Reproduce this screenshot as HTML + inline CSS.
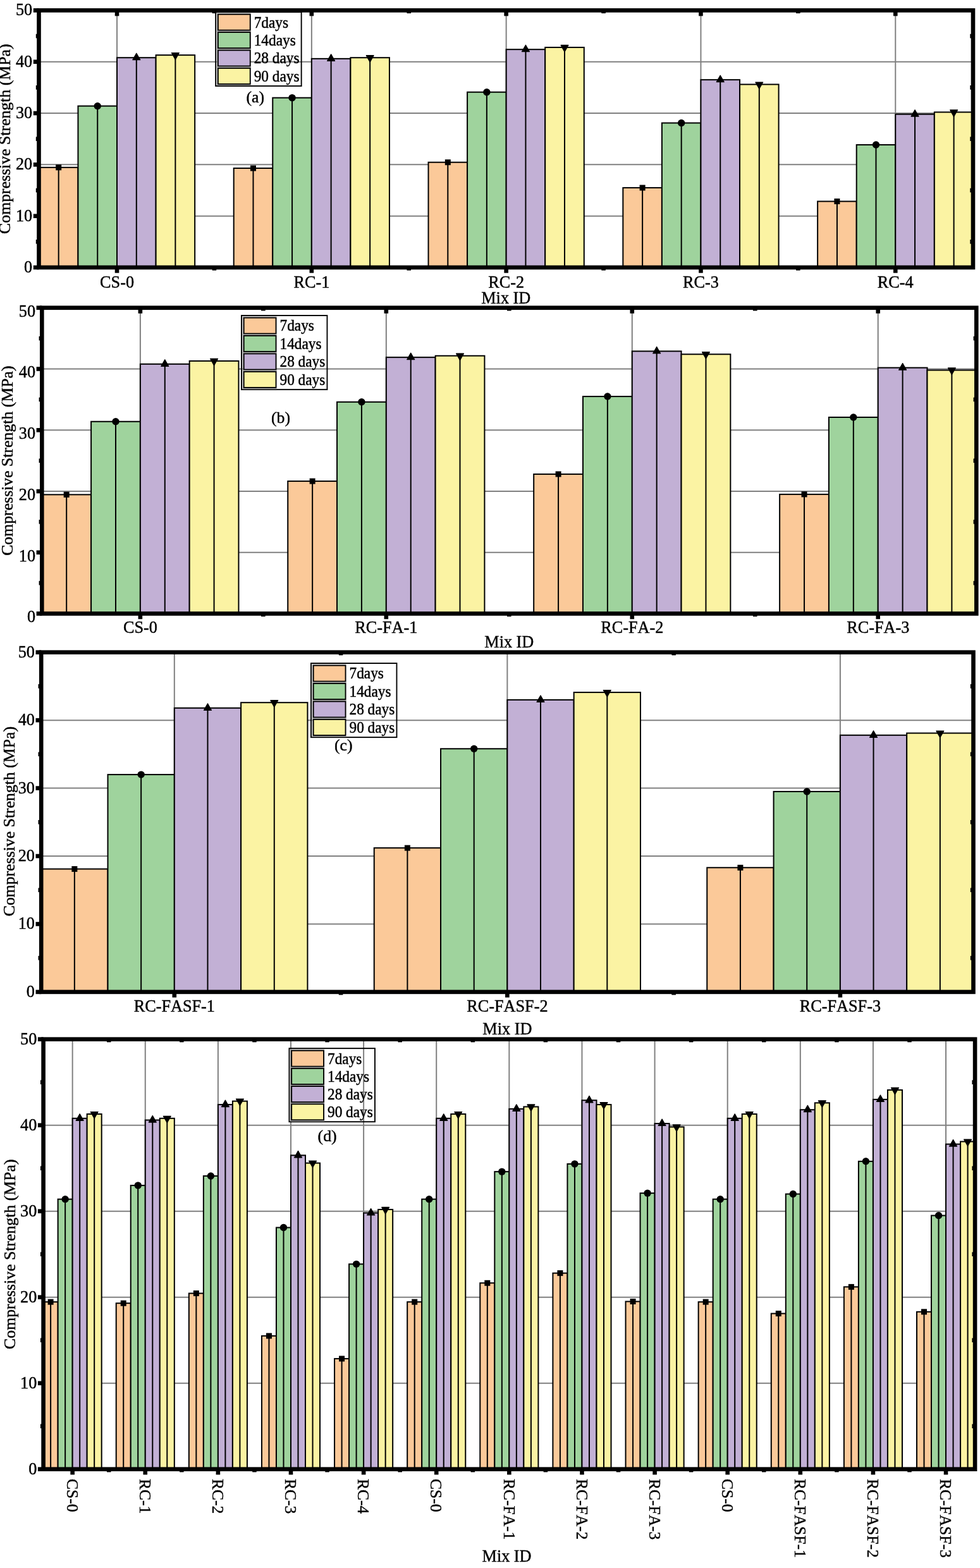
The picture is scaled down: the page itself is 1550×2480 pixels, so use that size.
<!DOCTYPE html>
<html lang="en"><head><meta charset="utf-8"><title>Compressive Strength of concrete mixes</title>
<style>html,body{margin:0;padding:0;background:#fff}body{width:1550px;height:2480px;overflow:hidden}svg{display:block}text{font-family:'Liberation Serif', serif;fill:#000;font-kerning:none}</style>
</head><body>
<svg width="1550" height="2480" viewBox="0 0 1550 2480" role="img" aria-label="Compressive strength of concrete mixes at 7, 14, 28 and 90 days">
<rect x="0" y="0" width="1550" height="2480" fill="#fff"/>
<g>
<line x1="61.5" y1="341.68" x2="1539" y2="341.68" stroke="#808080" stroke-width="2"/>
<line x1="61.5" y1="260.36" x2="1539" y2="260.36" stroke="#808080" stroke-width="2"/>
<line x1="61.5" y1="179.04" x2="1539" y2="179.04" stroke="#808080" stroke-width="2"/>
<line x1="61.5" y1="97.72" x2="1539" y2="97.72" stroke="#808080" stroke-width="2"/>
<line x1="185.03" y1="16.4" x2="185.03" y2="423" stroke="#808080" stroke-width="2"/>
<line x1="492.84" y1="16.4" x2="492.84" y2="423" stroke="#808080" stroke-width="2"/>
<line x1="800.65" y1="16.4" x2="800.65" y2="423" stroke="#808080" stroke-width="2"/>
<line x1="1108.46" y1="16.4" x2="1108.46" y2="423" stroke="#808080" stroke-width="2"/>
<line x1="1416.28" y1="16.4" x2="1416.28" y2="423" stroke="#808080" stroke-width="2"/>
<rect x="61.9" y="264.83" width="61.56" height="158.17" fill="#FBC999" stroke="#000" stroke-width="2"/>
<rect x="123.46" y="167.66" width="61.56" height="255.34" fill="#9FD39D" stroke="#000" stroke-width="2"/>
<rect x="185.03" y="91.21" width="61.56" height="331.79" fill="#C2B0D5" stroke="#000" stroke-width="2"/>
<rect x="246.59" y="87.15" width="61.56" height="335.85" fill="#FBF3A3" stroke="#000" stroke-width="2"/>
<rect x="369.71" y="266.05" width="61.56" height="156.95" fill="#FBC999" stroke="#000" stroke-width="2"/>
<rect x="431.27" y="154.64" width="61.56" height="268.36" fill="#9FD39D" stroke="#000" stroke-width="2"/>
<rect x="492.84" y="92.84" width="61.56" height="330.16" fill="#C2B0D5" stroke="#000" stroke-width="2"/>
<rect x="554.4" y="91.21" width="61.56" height="331.79" fill="#FBF3A3" stroke="#000" stroke-width="2"/>
<rect x="677.52" y="256.7" width="61.56" height="166.3" fill="#FBC999" stroke="#000" stroke-width="2"/>
<rect x="739.09" y="145.7" width="61.56" height="277.3" fill="#9FD39D" stroke="#000" stroke-width="2"/>
<rect x="800.65" y="78.2" width="61.56" height="344.8" fill="#C2B0D5" stroke="#000" stroke-width="2"/>
<rect x="862.21" y="74.95" width="61.56" height="348.05" fill="#FBF3A3" stroke="#000" stroke-width="2"/>
<rect x="985.34" y="296.95" width="61.56" height="126.05" fill="#FBC999" stroke="#000" stroke-width="2"/>
<rect x="1046.9" y="194.49" width="61.56" height="228.51" fill="#9FD39D" stroke="#000" stroke-width="2"/>
<rect x="1108.46" y="126.18" width="61.56" height="296.82" fill="#C2B0D5" stroke="#000" stroke-width="2"/>
<rect x="1170.03" y="133.5" width="61.56" height="289.5" fill="#FBF3A3" stroke="#000" stroke-width="2"/>
<rect x="1293.15" y="318.5" width="61.56" height="104.5" fill="#FBC999" stroke="#000" stroke-width="2"/>
<rect x="1354.71" y="229.05" width="61.56" height="193.95" fill="#9FD39D" stroke="#000" stroke-width="2"/>
<rect x="1416.28" y="180.67" width="61.56" height="242.33" fill="#C2B0D5" stroke="#000" stroke-width="2"/>
<rect x="1477.84" y="177.41" width="61.56" height="245.59" fill="#FBF3A3" stroke="#000" stroke-width="2"/>
<line x1="92.68" y1="264.83" x2="92.68" y2="423" stroke="#000" stroke-width="2"/>
<rect x="88.18" y="260.33" width="9" height="9" fill="#000"/>
<line x1="154.24" y1="167.66" x2="154.24" y2="423" stroke="#000" stroke-width="2"/>
<circle cx="154.24" cy="167.66" r="5.7" fill="#000"/>
<line x1="215.81" y1="91.21" x2="215.81" y2="423" stroke="#000" stroke-width="2"/>
<polygon points="215.81,84.28 209.91,94.68 221.71,94.68" fill="#000" stroke="#000" stroke-width="1.3" stroke-linejoin="round"/>
<line x1="277.37" y1="87.15" x2="277.37" y2="423" stroke="#000" stroke-width="2"/>
<polygon points="277.37,94.08 271.47,83.68 283.27,83.68" fill="#000" stroke="#000" stroke-width="1.3" stroke-linejoin="round"/>
<line x1="400.49" y1="266.05" x2="400.49" y2="423" stroke="#000" stroke-width="2"/>
<rect x="395.99" y="261.55" width="9" height="9" fill="#000"/>
<line x1="462.06" y1="154.64" x2="462.06" y2="423" stroke="#000" stroke-width="2"/>
<circle cx="462.06" cy="154.64" r="5.7" fill="#000"/>
<line x1="523.62" y1="92.84" x2="523.62" y2="423" stroke="#000" stroke-width="2"/>
<polygon points="523.62,85.91 517.72,96.31 529.52,96.31" fill="#000" stroke="#000" stroke-width="1.3" stroke-linejoin="round"/>
<line x1="585.18" y1="91.21" x2="585.18" y2="423" stroke="#000" stroke-width="2"/>
<polygon points="585.18,98.15 579.28,87.75 591.08,87.75" fill="#000" stroke="#000" stroke-width="1.3" stroke-linejoin="round"/>
<line x1="708.31" y1="256.7" x2="708.31" y2="423" stroke="#000" stroke-width="2"/>
<rect x="703.81" y="252.2" width="9" height="9" fill="#000"/>
<line x1="769.87" y1="145.7" x2="769.87" y2="423" stroke="#000" stroke-width="2"/>
<circle cx="769.87" cy="145.7" r="5.7" fill="#000"/>
<line x1="831.43" y1="78.2" x2="831.43" y2="423" stroke="#000" stroke-width="2"/>
<polygon points="831.43,71.27 825.53,81.67 837.33,81.67" fill="#000" stroke="#000" stroke-width="1.3" stroke-linejoin="round"/>
<line x1="892.99" y1="74.95" x2="892.99" y2="423" stroke="#000" stroke-width="2"/>
<polygon points="892.99,81.88 887.09,71.48 898.89,71.48" fill="#000" stroke="#000" stroke-width="1.3" stroke-linejoin="round"/>
<line x1="1016.12" y1="296.95" x2="1016.12" y2="423" stroke="#000" stroke-width="2"/>
<rect x="1011.62" y="292.45" width="9" height="9" fill="#000"/>
<line x1="1077.68" y1="194.49" x2="1077.68" y2="423" stroke="#000" stroke-width="2"/>
<circle cx="1077.68" cy="194.49" r="5.7" fill="#000"/>
<line x1="1139.24" y1="126.18" x2="1139.24" y2="423" stroke="#000" stroke-width="2"/>
<polygon points="1139.24,119.25 1133.34,129.65 1145.14,129.65" fill="#000" stroke="#000" stroke-width="1.3" stroke-linejoin="round"/>
<line x1="1200.81" y1="133.5" x2="1200.81" y2="423" stroke="#000" stroke-width="2"/>
<polygon points="1200.81,140.43 1194.91,130.03 1206.71,130.03" fill="#000" stroke="#000" stroke-width="1.3" stroke-linejoin="round"/>
<line x1="1323.93" y1="318.5" x2="1323.93" y2="423" stroke="#000" stroke-width="2"/>
<rect x="1319.43" y="314" width="9" height="9" fill="#000"/>
<line x1="1385.49" y1="229.05" x2="1385.49" y2="423" stroke="#000" stroke-width="2"/>
<circle cx="1385.49" cy="229.05" r="5.7" fill="#000"/>
<line x1="1447.06" y1="180.67" x2="1447.06" y2="423" stroke="#000" stroke-width="2"/>
<polygon points="1447.06,173.73 1441.16,184.13 1452.96,184.13" fill="#000" stroke="#000" stroke-width="1.3" stroke-linejoin="round"/>
<line x1="1508.62" y1="177.41" x2="1508.62" y2="423" stroke="#000" stroke-width="2"/>
<polygon points="1508.62,184.35 1502.72,173.95 1514.52,173.95" fill="#000" stroke="#000" stroke-width="1.3" stroke-linejoin="round"/>
<rect x="52.8" y="419.7" width="8.7" height="6.6" fill="#000"/>
<rect x="56.8" y="379.04" width="4.7" height="6.6" fill="#000"/>
<rect x="1534.3" y="379.04" width="4.7" height="6.6" fill="#000"/>
<rect x="52.8" y="338.38" width="8.7" height="6.6" fill="#000"/>
<rect x="56.8" y="297.72" width="4.7" height="6.6" fill="#000"/>
<rect x="1534.3" y="297.72" width="4.7" height="6.6" fill="#000"/>
<rect x="52.8" y="257.06" width="8.7" height="6.6" fill="#000"/>
<rect x="56.8" y="216.4" width="4.7" height="6.6" fill="#000"/>
<rect x="1534.3" y="216.4" width="4.7" height="6.6" fill="#000"/>
<rect x="52.8" y="175.74" width="8.7" height="6.6" fill="#000"/>
<rect x="56.8" y="135.08" width="4.7" height="6.6" fill="#000"/>
<rect x="1534.3" y="135.08" width="4.7" height="6.6" fill="#000"/>
<rect x="52.8" y="94.42" width="8.7" height="6.6" fill="#000"/>
<rect x="56.8" y="53.76" width="4.7" height="6.6" fill="#000"/>
<rect x="1534.3" y="53.76" width="4.7" height="6.6" fill="#000"/>
<rect x="52.8" y="13.1" width="8.7" height="6.6" fill="#000"/>
<rect x="181.72" y="423" width="6.6" height="8.7" fill="#000"/>
<rect x="181.72" y="16.4" width="6.6" height="8.9" fill="#000"/>
<rect x="335.63" y="423" width="6.6" height="4.7" fill="#000"/>
<rect x="335.63" y="16.4" width="6.6" height="4.7" fill="#000"/>
<rect x="489.54" y="423" width="6.6" height="8.7" fill="#000"/>
<rect x="489.54" y="16.4" width="6.6" height="8.9" fill="#000"/>
<rect x="643.44" y="423" width="6.6" height="4.7" fill="#000"/>
<rect x="643.44" y="16.4" width="6.6" height="4.7" fill="#000"/>
<rect x="797.35" y="423" width="6.6" height="8.7" fill="#000"/>
<rect x="797.35" y="16.4" width="6.6" height="8.9" fill="#000"/>
<rect x="951.26" y="423" width="6.6" height="4.7" fill="#000"/>
<rect x="951.26" y="16.4" width="6.6" height="4.7" fill="#000"/>
<rect x="1105.16" y="423" width="6.6" height="8.7" fill="#000"/>
<rect x="1105.16" y="16.4" width="6.6" height="8.9" fill="#000"/>
<rect x="1259.07" y="423" width="6.6" height="4.7" fill="#000"/>
<rect x="1259.07" y="16.4" width="6.6" height="4.7" fill="#000"/>
<rect x="1412.98" y="423" width="6.6" height="8.7" fill="#000"/>
<rect x="1412.98" y="16.4" width="6.6" height="8.9" fill="#000"/>
<rect x="61.5" y="16.4" width="1477.5" height="406.6" fill="none" stroke="#000" stroke-width="6.6"/>
<text transform="translate(51.2,431) scale(1.05,1.1)" font-size="25" text-anchor="end" stroke="#000" stroke-width="0.42">0</text>
<text transform="translate(51.2,349.68) scale(1.05,1.1)" font-size="25" text-anchor="end" stroke="#000" stroke-width="0.42">10</text>
<text transform="translate(51.2,268.36) scale(1.05,1.1)" font-size="25" text-anchor="end" stroke="#000" stroke-width="0.42">20</text>
<text transform="translate(51.2,187.04) scale(1.05,1.1)" font-size="25" text-anchor="end" stroke="#000" stroke-width="0.42">30</text>
<text transform="translate(51.2,105.72) scale(1.05,1.1)" font-size="25" text-anchor="end" stroke="#000" stroke-width="0.42">40</text>
<text transform="translate(51.2,24.4) scale(1.05,1.1)" font-size="25" text-anchor="end" stroke="#000" stroke-width="0.42">50</text>
<text transform="translate(15.9,219.7) rotate(-90) scale(1.03,1.01)" font-size="25" text-anchor="middle" stroke="#000" stroke-width="0.42">Compressive Strength (MPa)</text>
<text transform="translate(185.03,455.2) scale(1.05,1.1)" font-size="25" text-anchor="middle" stroke="#000" stroke-width="0.42">CS-0</text>
<text transform="translate(492.84,455.2) scale(1.05,1.1)" font-size="25" text-anchor="middle" stroke="#000" stroke-width="0.42">RC-1</text>
<text transform="translate(800.65,455.2) scale(1.05,1.1)" font-size="25" text-anchor="middle" stroke="#000" stroke-width="0.42">RC-2</text>
<text transform="translate(1108.46,455.2) scale(1.05,1.1)" font-size="25" text-anchor="middle" stroke="#000" stroke-width="0.42">RC-3</text>
<text transform="translate(1416.28,455.2) scale(1.05,1.1)" font-size="25" text-anchor="middle" stroke="#000" stroke-width="0.42">RC-4</text>
<text transform="translate(800.25,479.7) scale(1.05,1.1)" font-size="25" text-anchor="middle" stroke="#000" stroke-width="0.42">Mix ID</text>
<rect x="341.15" y="19.15" width="135.5" height="116.9" fill="none" stroke="#000" stroke-width="1.9"/>
<path d="M396.7 21.1 H343.3 V49.3 H396.7" fill="none" stroke="#b0b0b0" stroke-width="1.2"/>
<rect x="344.85" y="22.65" width="50.9" height="25.1" fill="#FBC999" stroke="#000" stroke-width="1.9"/>
<text transform="translate(401.7,43.5) scale(1.05,1.1)" font-size="22.2" text-anchor="start" stroke="#000" stroke-width="0.42">7days</text>
<path d="M396.7 49.5 H343.3 V77.7 H396.7" fill="none" stroke="#b0b0b0" stroke-width="1.2"/>
<rect x="344.85" y="51.05" width="50.9" height="25.1" fill="#9FD39D" stroke="#000" stroke-width="1.9"/>
<text transform="translate(401.7,71.9) scale(1.05,1.1)" font-size="22.2" text-anchor="start" stroke="#000" stroke-width="0.42">14days</text>
<path d="M396.7 77.9 H343.3 V106.1 H396.7" fill="none" stroke="#b0b0b0" stroke-width="1.2"/>
<rect x="344.85" y="79.45" width="50.9" height="25.1" fill="#C2B0D5" stroke="#000" stroke-width="1.9"/>
<text transform="translate(401.7,100.3) scale(1.05,1.1)" font-size="22.2" text-anchor="start" stroke="#000" stroke-width="0.42">28 days</text>
<path d="M396.7 106.3 H343.3 V134.5 H396.7" fill="none" stroke="#b0b0b0" stroke-width="1.2"/>
<rect x="344.85" y="107.85" width="50.9" height="25.1" fill="#FBF3A3" stroke="#000" stroke-width="1.9"/>
<text transform="translate(401.7,128.7) scale(1.05,1.1)" font-size="22.2" text-anchor="start" stroke="#000" stroke-width="0.42">90 days</text>
<text transform="translate(389.4,161.6) scale(1.03,1.02)" font-size="25" text-anchor="start" stroke="#000" stroke-width="0.42">(a)</text>
</g>
<g>
<line x1="66.3" y1="873.76" x2="1544.3" y2="873.76" stroke="#808080" stroke-width="2"/>
<line x1="66.3" y1="777.02" x2="1544.3" y2="777.02" stroke="#808080" stroke-width="2"/>
<line x1="66.3" y1="680.28" x2="1544.3" y2="680.28" stroke="#808080" stroke-width="2"/>
<line x1="66.3" y1="583.54" x2="1544.3" y2="583.54" stroke="#808080" stroke-width="2"/>
<line x1="221.88" y1="486.8" x2="221.88" y2="970.5" stroke="#808080" stroke-width="2"/>
<line x1="610.83" y1="486.8" x2="610.83" y2="970.5" stroke="#808080" stroke-width="2"/>
<line x1="999.77" y1="486.8" x2="999.77" y2="970.5" stroke="#808080" stroke-width="2"/>
<line x1="1388.72" y1="486.8" x2="1388.72" y2="970.5" stroke="#808080" stroke-width="2"/>
<rect x="66.3" y="782.34" width="77.79" height="188.16" fill="#FBC999" stroke="#000" stroke-width="2"/>
<rect x="144.09" y="666.74" width="77.79" height="303.76" fill="#9FD39D" stroke="#000" stroke-width="2"/>
<rect x="221.88" y="575.8" width="77.79" height="394.7" fill="#C2B0D5" stroke="#000" stroke-width="2"/>
<rect x="299.67" y="570.96" width="77.79" height="399.54" fill="#FBF3A3" stroke="#000" stroke-width="2"/>
<rect x="455.25" y="761.06" width="77.79" height="209.44" fill="#FBC999" stroke="#000" stroke-width="2"/>
<rect x="533.04" y="635.78" width="77.79" height="334.72" fill="#9FD39D" stroke="#000" stroke-width="2"/>
<rect x="610.83" y="565.16" width="77.79" height="405.34" fill="#C2B0D5" stroke="#000" stroke-width="2"/>
<rect x="688.62" y="562.74" width="77.79" height="407.76" fill="#FBF3A3" stroke="#000" stroke-width="2"/>
<rect x="844.19" y="749.93" width="77.79" height="220.57" fill="#FBC999" stroke="#000" stroke-width="2"/>
<rect x="921.98" y="627.07" width="77.79" height="343.43" fill="#9FD39D" stroke="#000" stroke-width="2"/>
<rect x="999.77" y="555.49" width="77.79" height="415.01" fill="#C2B0D5" stroke="#000" stroke-width="2"/>
<rect x="1077.56" y="560.32" width="77.79" height="410.18" fill="#FBF3A3" stroke="#000" stroke-width="2"/>
<rect x="1233.14" y="781.86" width="77.79" height="188.64" fill="#FBC999" stroke="#000" stroke-width="2"/>
<rect x="1310.93" y="659.96" width="77.79" height="310.54" fill="#9FD39D" stroke="#000" stroke-width="2"/>
<rect x="1388.72" y="581.61" width="77.79" height="388.89" fill="#C2B0D5" stroke="#000" stroke-width="2"/>
<rect x="1466.51" y="585.47" width="77.79" height="385.03" fill="#FBF3A3" stroke="#000" stroke-width="2"/>
<line x1="105.19" y1="782.34" x2="105.19" y2="970.5" stroke="#000" stroke-width="2"/>
<rect x="100.69" y="777.84" width="9" height="9" fill="#000"/>
<line x1="182.98" y1="666.74" x2="182.98" y2="970.5" stroke="#000" stroke-width="2"/>
<circle cx="182.98" cy="666.74" r="5.7" fill="#000"/>
<line x1="260.77" y1="575.8" x2="260.77" y2="970.5" stroke="#000" stroke-width="2"/>
<polygon points="260.77,568.87 254.87,579.27 266.67,579.27" fill="#000" stroke="#000" stroke-width="1.3" stroke-linejoin="round"/>
<line x1="338.56" y1="570.96" x2="338.56" y2="970.5" stroke="#000" stroke-width="2"/>
<polygon points="338.56,577.9 332.66,567.5 344.46,567.5" fill="#000" stroke="#000" stroke-width="1.3" stroke-linejoin="round"/>
<line x1="494.14" y1="761.06" x2="494.14" y2="970.5" stroke="#000" stroke-width="2"/>
<rect x="489.64" y="756.56" width="9" height="9" fill="#000"/>
<line x1="571.93" y1="635.78" x2="571.93" y2="970.5" stroke="#000" stroke-width="2"/>
<circle cx="571.93" cy="635.78" r="5.7" fill="#000"/>
<line x1="649.72" y1="565.16" x2="649.72" y2="970.5" stroke="#000" stroke-width="2"/>
<polygon points="649.72,558.23 643.82,568.63 655.62,568.63" fill="#000" stroke="#000" stroke-width="1.3" stroke-linejoin="round"/>
<line x1="727.51" y1="562.74" x2="727.51" y2="970.5" stroke="#000" stroke-width="2"/>
<polygon points="727.51,569.67 721.61,559.27 733.41,559.27" fill="#000" stroke="#000" stroke-width="1.3" stroke-linejoin="round"/>
<line x1="883.09" y1="749.93" x2="883.09" y2="970.5" stroke="#000" stroke-width="2"/>
<rect x="878.59" y="745.43" width="9" height="9" fill="#000"/>
<line x1="960.88" y1="627.07" x2="960.88" y2="970.5" stroke="#000" stroke-width="2"/>
<circle cx="960.88" cy="627.07" r="5.7" fill="#000"/>
<line x1="1038.67" y1="555.49" x2="1038.67" y2="970.5" stroke="#000" stroke-width="2"/>
<polygon points="1038.67,548.55 1032.77,558.95 1044.57,558.95" fill="#000" stroke="#000" stroke-width="1.3" stroke-linejoin="round"/>
<line x1="1116.46" y1="560.32" x2="1116.46" y2="970.5" stroke="#000" stroke-width="2"/>
<polygon points="1116.46,567.26 1110.56,556.86 1122.36,556.86" fill="#000" stroke="#000" stroke-width="1.3" stroke-linejoin="round"/>
<line x1="1272.04" y1="781.86" x2="1272.04" y2="970.5" stroke="#000" stroke-width="2"/>
<rect x="1267.54" y="777.36" width="9" height="9" fill="#000"/>
<line x1="1349.83" y1="659.96" x2="1349.83" y2="970.5" stroke="#000" stroke-width="2"/>
<circle cx="1349.83" cy="659.96" r="5.7" fill="#000"/>
<line x1="1427.62" y1="581.61" x2="1427.62" y2="970.5" stroke="#000" stroke-width="2"/>
<polygon points="1427.62,574.67 1421.72,585.07 1433.52,585.07" fill="#000" stroke="#000" stroke-width="1.3" stroke-linejoin="round"/>
<line x1="1505.41" y1="585.47" x2="1505.41" y2="970.5" stroke="#000" stroke-width="2"/>
<polygon points="1505.41,592.41 1499.51,582.01 1511.31,582.01" fill="#000" stroke="#000" stroke-width="1.3" stroke-linejoin="round"/>
<rect x="57.6" y="967.2" width="8.7" height="6.6" fill="#000"/>
<rect x="61.6" y="918.83" width="4.7" height="6.6" fill="#000"/>
<rect x="1539.6" y="918.83" width="4.7" height="6.6" fill="#000"/>
<rect x="57.6" y="870.46" width="8.7" height="6.6" fill="#000"/>
<rect x="61.6" y="822.09" width="4.7" height="6.6" fill="#000"/>
<rect x="1539.6" y="822.09" width="4.7" height="6.6" fill="#000"/>
<rect x="57.6" y="773.72" width="8.7" height="6.6" fill="#000"/>
<rect x="61.6" y="725.35" width="4.7" height="6.6" fill="#000"/>
<rect x="1539.6" y="725.35" width="4.7" height="6.6" fill="#000"/>
<rect x="57.6" y="676.98" width="8.7" height="6.6" fill="#000"/>
<rect x="61.6" y="628.61" width="4.7" height="6.6" fill="#000"/>
<rect x="1539.6" y="628.61" width="4.7" height="6.6" fill="#000"/>
<rect x="57.6" y="580.24" width="8.7" height="6.6" fill="#000"/>
<rect x="61.6" y="531.87" width="4.7" height="6.6" fill="#000"/>
<rect x="1539.6" y="531.87" width="4.7" height="6.6" fill="#000"/>
<rect x="57.6" y="483.5" width="8.7" height="6.6" fill="#000"/>
<rect x="218.58" y="970.5" width="6.6" height="8.7" fill="#000"/>
<rect x="218.58" y="486.8" width="6.6" height="8.9" fill="#000"/>
<rect x="413.05" y="970.5" width="6.6" height="4.7" fill="#000"/>
<rect x="413.05" y="486.8" width="6.6" height="4.7" fill="#000"/>
<rect x="607.53" y="970.5" width="6.6" height="8.7" fill="#000"/>
<rect x="607.53" y="486.8" width="6.6" height="8.9" fill="#000"/>
<rect x="802" y="970.5" width="6.6" height="4.7" fill="#000"/>
<rect x="802" y="486.8" width="6.6" height="4.7" fill="#000"/>
<rect x="996.47" y="970.5" width="6.6" height="8.7" fill="#000"/>
<rect x="996.47" y="486.8" width="6.6" height="8.9" fill="#000"/>
<rect x="1190.95" y="970.5" width="6.6" height="4.7" fill="#000"/>
<rect x="1190.95" y="486.8" width="6.6" height="4.7" fill="#000"/>
<rect x="1385.42" y="970.5" width="6.6" height="8.7" fill="#000"/>
<rect x="1385.42" y="486.8" width="6.6" height="8.9" fill="#000"/>
<rect x="66.3" y="486.8" width="1478" height="483.7" fill="none" stroke="#000" stroke-width="6.6"/>
<text transform="translate(56,984.3) scale(1.05,1.1)" font-size="25" text-anchor="end" stroke="#000" stroke-width="0.42">0</text>
<text transform="translate(56,887.56) scale(1.05,1.1)" font-size="25" text-anchor="end" stroke="#000" stroke-width="0.42">10</text>
<text transform="translate(56,790.82) scale(1.05,1.1)" font-size="25" text-anchor="end" stroke="#000" stroke-width="0.42">20</text>
<text transform="translate(56,694.08) scale(1.05,1.1)" font-size="25" text-anchor="end" stroke="#000" stroke-width="0.42">30</text>
<text transform="translate(56,597.34) scale(1.05,1.1)" font-size="25" text-anchor="end" stroke="#000" stroke-width="0.42">40</text>
<text transform="translate(56,500.6) scale(1.05,1.1)" font-size="25" text-anchor="end" stroke="#000" stroke-width="0.42">50</text>
<text transform="translate(19.8,728.65) rotate(-90) scale(1.03,1.01)" font-size="25" text-anchor="middle" stroke="#000" stroke-width="0.42">Compressive Strength (MPa)</text>
<text transform="translate(221.88,1001) scale(1.05,1.1)" font-size="25" text-anchor="middle" stroke="#000" stroke-width="0.42">CS-0</text>
<text transform="translate(610.83,1001) scale(1.05,1.1)" font-size="25" text-anchor="middle" stroke="#000" stroke-width="0.42">RC-FA-1</text>
<text transform="translate(999.77,1001) scale(1.05,1.1)" font-size="25" text-anchor="middle" stroke="#000" stroke-width="0.42">RC-FA-2</text>
<text transform="translate(1388.72,1001) scale(1.05,1.1)" font-size="25" text-anchor="middle" stroke="#000" stroke-width="0.42">RC-FA-3</text>
<text transform="translate(805.3,1023.9) scale(1.05,1.1)" font-size="25" text-anchor="middle" stroke="#000" stroke-width="0.42">Mix ID</text>
<rect x="381.95" y="499.05" width="135.5" height="117.1" fill="none" stroke="#000" stroke-width="1.9"/>
<path d="M437.5 501 H384.1 V529.2 H437.5" fill="none" stroke="#b0b0b0" stroke-width="1.2"/>
<rect x="385.65" y="502.55" width="50.9" height="25.1" fill="#FBC999" stroke="#000" stroke-width="1.9"/>
<text transform="translate(442.5,523.4) scale(1.05,1.1)" font-size="22.2" text-anchor="start" stroke="#000" stroke-width="0.42">7days</text>
<path d="M437.5 529.45 H384.1 V557.65 H437.5" fill="none" stroke="#b0b0b0" stroke-width="1.2"/>
<rect x="385.65" y="531" width="50.9" height="25.1" fill="#9FD39D" stroke="#000" stroke-width="1.9"/>
<text transform="translate(442.5,551.85) scale(1.05,1.1)" font-size="22.2" text-anchor="start" stroke="#000" stroke-width="0.42">14days</text>
<path d="M437.5 557.9 H384.1 V586.1 H437.5" fill="none" stroke="#b0b0b0" stroke-width="1.2"/>
<rect x="385.65" y="559.45" width="50.9" height="25.1" fill="#C2B0D5" stroke="#000" stroke-width="1.9"/>
<text transform="translate(442.5,580.3) scale(1.05,1.1)" font-size="22.2" text-anchor="start" stroke="#000" stroke-width="0.42">28 days</text>
<path d="M437.5 586.35 H384.1 V614.55 H437.5" fill="none" stroke="#b0b0b0" stroke-width="1.2"/>
<rect x="385.65" y="587.9" width="50.9" height="25.1" fill="#FBF3A3" stroke="#000" stroke-width="1.9"/>
<text transform="translate(442.5,608.75) scale(1.05,1.1)" font-size="22.2" text-anchor="start" stroke="#000" stroke-width="0.42">90 days</text>
<text transform="translate(429,669.2) scale(1.03,1.02)" font-size="25" text-anchor="start" stroke="#000" stroke-width="0.42">(b)</text>
</g>
<g>
<line x1="65.2" y1="1461.46" x2="1539.5" y2="1461.46" stroke="#808080" stroke-width="2"/>
<line x1="65.2" y1="1354.02" x2="1539.5" y2="1354.02" stroke="#808080" stroke-width="2"/>
<line x1="65.2" y1="1246.58" x2="1539.5" y2="1246.58" stroke="#808080" stroke-width="2"/>
<line x1="65.2" y1="1139.14" x2="1539.5" y2="1139.14" stroke="#808080" stroke-width="2"/>
<line x1="275.81" y1="1031.7" x2="275.81" y2="1568.9" stroke="#808080" stroke-width="2"/>
<line x1="802.35" y1="1031.7" x2="802.35" y2="1568.9" stroke="#808080" stroke-width="2"/>
<line x1="1328.89" y1="1031.7" x2="1328.89" y2="1568.9" stroke="#808080" stroke-width="2"/>
<rect x="65.2" y="1374.43" width="105.31" height="194.47" fill="#FBC999" stroke="#000" stroke-width="2"/>
<rect x="170.51" y="1225.09" width="105.31" height="343.81" fill="#9FD39D" stroke="#000" stroke-width="2"/>
<rect x="275.81" y="1119.8" width="105.31" height="449.1" fill="#C2B0D5" stroke="#000" stroke-width="2"/>
<rect x="381.12" y="1111.21" width="105.31" height="457.69" fill="#FBF3A3" stroke="#000" stroke-width="2"/>
<rect x="591.74" y="1341.13" width="105.31" height="227.77" fill="#FBC999" stroke="#000" stroke-width="2"/>
<rect x="697.04" y="1184.26" width="105.31" height="384.64" fill="#9FD39D" stroke="#000" stroke-width="2"/>
<rect x="802.35" y="1106.91" width="105.31" height="461.99" fill="#C2B0D5" stroke="#000" stroke-width="2"/>
<rect x="907.66" y="1095.09" width="105.31" height="473.81" fill="#FBF3A3" stroke="#000" stroke-width="2"/>
<rect x="1118.27" y="1372.28" width="105.31" height="196.62" fill="#FBC999" stroke="#000" stroke-width="2"/>
<rect x="1223.58" y="1251.95" width="105.31" height="316.95" fill="#9FD39D" stroke="#000" stroke-width="2"/>
<rect x="1328.89" y="1162.78" width="105.31" height="406.12" fill="#C2B0D5" stroke="#000" stroke-width="2"/>
<rect x="1434.19" y="1159.55" width="105.31" height="409.35" fill="#FBF3A3" stroke="#000" stroke-width="2"/>
<line x1="117.85" y1="1374.43" x2="117.85" y2="1568.9" stroke="#000" stroke-width="2"/>
<rect x="113.35" y="1369.93" width="9" height="9" fill="#000"/>
<line x1="223.16" y1="1225.09" x2="223.16" y2="1568.9" stroke="#000" stroke-width="2"/>
<circle cx="223.16" cy="1225.09" r="5.7" fill="#000"/>
<line x1="328.47" y1="1119.8" x2="328.47" y2="1568.9" stroke="#000" stroke-width="2"/>
<polygon points="328.47,1112.87 322.57,1123.27 334.37,1123.27" fill="#000" stroke="#000" stroke-width="1.3" stroke-linejoin="round"/>
<line x1="433.78" y1="1111.21" x2="433.78" y2="1568.9" stroke="#000" stroke-width="2"/>
<polygon points="433.78,1118.14 427.88,1107.74 439.68,1107.74" fill="#000" stroke="#000" stroke-width="1.3" stroke-linejoin="round"/>
<line x1="644.39" y1="1341.13" x2="644.39" y2="1568.9" stroke="#000" stroke-width="2"/>
<rect x="639.89" y="1336.63" width="9" height="9" fill="#000"/>
<line x1="749.7" y1="1184.26" x2="749.7" y2="1568.9" stroke="#000" stroke-width="2"/>
<circle cx="749.7" cy="1184.26" r="5.7" fill="#000"/>
<line x1="855" y1="1106.91" x2="855" y2="1568.9" stroke="#000" stroke-width="2"/>
<polygon points="855,1099.97 849.1,1110.37 860.9,1110.37" fill="#000" stroke="#000" stroke-width="1.3" stroke-linejoin="round"/>
<line x1="960.31" y1="1095.09" x2="960.31" y2="1568.9" stroke="#000" stroke-width="2"/>
<polygon points="960.31,1102.02 954.41,1091.62 966.21,1091.62" fill="#000" stroke="#000" stroke-width="1.3" stroke-linejoin="round"/>
<line x1="1170.93" y1="1372.28" x2="1170.93" y2="1568.9" stroke="#000" stroke-width="2"/>
<rect x="1166.43" y="1367.78" width="9" height="9" fill="#000"/>
<line x1="1276.23" y1="1251.95" x2="1276.23" y2="1568.9" stroke="#000" stroke-width="2"/>
<circle cx="1276.23" cy="1251.95" r="5.7" fill="#000"/>
<line x1="1381.54" y1="1162.78" x2="1381.54" y2="1568.9" stroke="#000" stroke-width="2"/>
<polygon points="1381.54,1155.84 1375.64,1166.24 1387.44,1166.24" fill="#000" stroke="#000" stroke-width="1.3" stroke-linejoin="round"/>
<line x1="1486.85" y1="1159.55" x2="1486.85" y2="1568.9" stroke="#000" stroke-width="2"/>
<polygon points="1486.85,1166.49 1480.95,1156.09 1492.75,1156.09" fill="#000" stroke="#000" stroke-width="1.3" stroke-linejoin="round"/>
<rect x="56.5" y="1565.6" width="8.7" height="6.6" fill="#000"/>
<rect x="60.5" y="1511.88" width="4.7" height="6.6" fill="#000"/>
<rect x="1534.8" y="1511.88" width="4.7" height="6.6" fill="#000"/>
<rect x="56.5" y="1458.16" width="8.7" height="6.6" fill="#000"/>
<rect x="60.5" y="1404.44" width="4.7" height="6.6" fill="#000"/>
<rect x="1534.8" y="1404.44" width="4.7" height="6.6" fill="#000"/>
<rect x="56.5" y="1350.72" width="8.7" height="6.6" fill="#000"/>
<rect x="60.5" y="1297" width="4.7" height="6.6" fill="#000"/>
<rect x="1534.8" y="1297" width="4.7" height="6.6" fill="#000"/>
<rect x="56.5" y="1243.28" width="8.7" height="6.6" fill="#000"/>
<rect x="60.5" y="1189.56" width="4.7" height="6.6" fill="#000"/>
<rect x="1534.8" y="1189.56" width="4.7" height="6.6" fill="#000"/>
<rect x="56.5" y="1135.84" width="8.7" height="6.6" fill="#000"/>
<rect x="60.5" y="1082.12" width="4.7" height="6.6" fill="#000"/>
<rect x="1534.8" y="1082.12" width="4.7" height="6.6" fill="#000"/>
<rect x="56.5" y="1028.4" width="8.7" height="6.6" fill="#000"/>
<rect x="272.51" y="1568.9" width="6.6" height="8.7" fill="#000"/>
<rect x="535.78" y="1568.9" width="6.6" height="4.7" fill="#000"/>
<rect x="535.78" y="1031.7" width="6.6" height="4.7" fill="#000"/>
<rect x="799.05" y="1568.9" width="6.6" height="8.7" fill="#000"/>
<rect x="1062.32" y="1568.9" width="6.6" height="4.7" fill="#000"/>
<rect x="1062.32" y="1031.7" width="6.6" height="4.7" fill="#000"/>
<rect x="1325.59" y="1568.9" width="6.6" height="8.7" fill="#000"/>
<rect x="65.2" y="1031.7" width="1474.3" height="537.2" fill="none" stroke="#000" stroke-width="6.6"/>
<text transform="translate(54.9,1576.9) scale(1.05,1.1)" font-size="25" text-anchor="end" stroke="#000" stroke-width="0.42">0</text>
<text transform="translate(54.9,1469.46) scale(1.05,1.1)" font-size="25" text-anchor="end" stroke="#000" stroke-width="0.42">10</text>
<text transform="translate(54.9,1362.02) scale(1.05,1.1)" font-size="25" text-anchor="end" stroke="#000" stroke-width="0.42">20</text>
<text transform="translate(54.9,1254.58) scale(1.05,1.1)" font-size="25" text-anchor="end" stroke="#000" stroke-width="0.42">30</text>
<text transform="translate(54.9,1147.14) scale(1.05,1.1)" font-size="25" text-anchor="end" stroke="#000" stroke-width="0.42">40</text>
<text transform="translate(54.9,1039.7) scale(1.05,1.1)" font-size="25" text-anchor="end" stroke="#000" stroke-width="0.42">50</text>
<text transform="translate(23,1299.1) rotate(-90) scale(1.03,1.01)" font-size="25" text-anchor="middle" stroke="#000" stroke-width="0.42">Compressive Strength (MPa)</text>
<text transform="translate(275.81,1600.4) scale(1.05,1.1)" font-size="25" text-anchor="middle" stroke="#000" stroke-width="0.42">RC-FASF-1</text>
<text transform="translate(802.35,1600.4) scale(1.05,1.1)" font-size="25" text-anchor="middle" stroke="#000" stroke-width="0.42">RC-FASF-2</text>
<text transform="translate(1328.89,1600.4) scale(1.05,1.1)" font-size="25" text-anchor="middle" stroke="#000" stroke-width="0.42">RC-FASF-3</text>
<text transform="translate(802.35,1635.9) scale(1.05,1.1)" font-size="25" text-anchor="middle" stroke="#000" stroke-width="0.42">Mix ID</text>
<rect x="491.95" y="1049.05" width="135.5" height="117.1" fill="none" stroke="#000" stroke-width="1.9"/>
<path d="M547.5 1051 H494.1 V1079.2 H547.5" fill="none" stroke="#b0b0b0" stroke-width="1.2"/>
<rect x="495.65" y="1052.55" width="50.9" height="25.1" fill="#FBC999" stroke="#000" stroke-width="1.9"/>
<text transform="translate(552.5,1073.4) scale(1.05,1.1)" font-size="22.2" text-anchor="start" stroke="#000" stroke-width="0.42">7days</text>
<path d="M547.5 1079.45 H494.1 V1107.65 H547.5" fill="none" stroke="#b0b0b0" stroke-width="1.2"/>
<rect x="495.65" y="1081" width="50.9" height="25.1" fill="#9FD39D" stroke="#000" stroke-width="1.9"/>
<text transform="translate(552.5,1101.85) scale(1.05,1.1)" font-size="22.2" text-anchor="start" stroke="#000" stroke-width="0.42">14days</text>
<path d="M547.5 1107.9 H494.1 V1136.1 H547.5" fill="none" stroke="#b0b0b0" stroke-width="1.2"/>
<rect x="495.65" y="1109.45" width="50.9" height="25.1" fill="#C2B0D5" stroke="#000" stroke-width="1.9"/>
<text transform="translate(552.5,1130.3) scale(1.05,1.1)" font-size="22.2" text-anchor="start" stroke="#000" stroke-width="0.42">28 days</text>
<path d="M547.5 1136.35 H494.1 V1164.55 H547.5" fill="none" stroke="#b0b0b0" stroke-width="1.2"/>
<rect x="495.65" y="1137.9" width="50.9" height="25.1" fill="#FBF3A3" stroke="#000" stroke-width="1.9"/>
<text transform="translate(552.5,1158.75) scale(1.05,1.1)" font-size="22.2" text-anchor="start" stroke="#000" stroke-width="0.42">90 days</text>
<text transform="translate(529,1186.7) scale(1.03,1.02)" font-size="25" text-anchor="start" stroke="#000" stroke-width="0.42">(c)</text>
</g>
<g>
<line x1="68.6" y1="2187.7" x2="1542.1" y2="2187.7" stroke="#808080" stroke-width="2"/>
<line x1="68.6" y1="2051.7" x2="1542.1" y2="2051.7" stroke="#808080" stroke-width="2"/>
<line x1="68.6" y1="1915.7" x2="1542.1" y2="1915.7" stroke="#808080" stroke-width="2"/>
<line x1="68.6" y1="1779.7" x2="1542.1" y2="1779.7" stroke="#808080" stroke-width="2"/>
<line x1="114.65" y1="1643.7" x2="114.65" y2="2323.7" stroke="#808080" stroke-width="2"/>
<line x1="229.76" y1="1643.7" x2="229.76" y2="2323.7" stroke="#808080" stroke-width="2"/>
<line x1="344.88" y1="1643.7" x2="344.88" y2="2323.7" stroke="#808080" stroke-width="2"/>
<line x1="460" y1="1643.7" x2="460" y2="2323.7" stroke="#808080" stroke-width="2"/>
<line x1="575.12" y1="1643.7" x2="575.12" y2="2323.7" stroke="#808080" stroke-width="2"/>
<line x1="690.23" y1="1643.7" x2="690.23" y2="2323.7" stroke="#808080" stroke-width="2"/>
<line x1="805.35" y1="1643.7" x2="805.35" y2="2323.7" stroke="#808080" stroke-width="2"/>
<line x1="920.47" y1="1643.7" x2="920.47" y2="2323.7" stroke="#808080" stroke-width="2"/>
<line x1="1035.58" y1="1643.7" x2="1035.58" y2="2323.7" stroke="#808080" stroke-width="2"/>
<line x1="1150.7" y1="1643.7" x2="1150.7" y2="2323.7" stroke="#808080" stroke-width="2"/>
<line x1="1265.82" y1="1643.7" x2="1265.82" y2="2323.7" stroke="#808080" stroke-width="2"/>
<line x1="1380.94" y1="1643.7" x2="1380.94" y2="2323.7" stroke="#808080" stroke-width="2"/>
<line x1="1496.05" y1="1643.7" x2="1496.05" y2="2323.7" stroke="#808080" stroke-width="2"/>
<rect x="68.6" y="2059.18" width="23.02" height="264.52" fill="#FBC999" stroke="#000" stroke-width="2"/>
<rect x="91.62" y="1896.66" width="23.02" height="427.04" fill="#9FD39D" stroke="#000" stroke-width="2"/>
<rect x="114.65" y="1768.82" width="23.02" height="554.88" fill="#C2B0D5" stroke="#000" stroke-width="2"/>
<rect x="137.67" y="1762.02" width="23.02" height="561.68" fill="#FBF3A3" stroke="#000" stroke-width="2"/>
<rect x="183.72" y="2061.22" width="23.02" height="262.48" fill="#FBC999" stroke="#000" stroke-width="2"/>
<rect x="206.74" y="1874.9" width="23.02" height="448.8" fill="#9FD39D" stroke="#000" stroke-width="2"/>
<rect x="229.76" y="1771.54" width="23.02" height="552.16" fill="#C2B0D5" stroke="#000" stroke-width="2"/>
<rect x="252.79" y="1768.82" width="23.02" height="554.88" fill="#FBF3A3" stroke="#000" stroke-width="2"/>
<rect x="298.83" y="2045.58" width="23.02" height="278.12" fill="#FBC999" stroke="#000" stroke-width="2"/>
<rect x="321.86" y="1859.94" width="23.02" height="463.76" fill="#9FD39D" stroke="#000" stroke-width="2"/>
<rect x="344.88" y="1747.06" width="23.02" height="576.64" fill="#C2B0D5" stroke="#000" stroke-width="2"/>
<rect x="367.9" y="1741.62" width="23.02" height="582.08" fill="#FBF3A3" stroke="#000" stroke-width="2"/>
<rect x="413.95" y="2112.9" width="23.02" height="210.8" fill="#FBC999" stroke="#000" stroke-width="2"/>
<rect x="436.98" y="1941.54" width="23.02" height="382.16" fill="#9FD39D" stroke="#000" stroke-width="2"/>
<rect x="460" y="1827.3" width="23.02" height="496.4" fill="#C2B0D5" stroke="#000" stroke-width="2"/>
<rect x="483.02" y="1839.54" width="23.02" height="484.16" fill="#FBF3A3" stroke="#000" stroke-width="2"/>
<rect x="529.07" y="2148.94" width="23.02" height="174.76" fill="#FBC999" stroke="#000" stroke-width="2"/>
<rect x="552.09" y="1999.34" width="23.02" height="324.36" fill="#9FD39D" stroke="#000" stroke-width="2"/>
<rect x="575.12" y="1918.42" width="23.02" height="405.28" fill="#C2B0D5" stroke="#000" stroke-width="2"/>
<rect x="598.14" y="1912.98" width="23.02" height="410.72" fill="#FBF3A3" stroke="#000" stroke-width="2"/>
<rect x="644.19" y="2059.18" width="23.02" height="264.52" fill="#FBC999" stroke="#000" stroke-width="2"/>
<rect x="667.21" y="1896.66" width="23.02" height="427.04" fill="#9FD39D" stroke="#000" stroke-width="2"/>
<rect x="690.23" y="1768.82" width="23.02" height="554.88" fill="#C2B0D5" stroke="#000" stroke-width="2"/>
<rect x="713.26" y="1762.02" width="23.02" height="561.68" fill="#FBF3A3" stroke="#000" stroke-width="2"/>
<rect x="759.3" y="2029.26" width="23.02" height="294.44" fill="#FBC999" stroke="#000" stroke-width="2"/>
<rect x="782.33" y="1853.14" width="23.02" height="470.56" fill="#9FD39D" stroke="#000" stroke-width="2"/>
<rect x="805.35" y="1753.86" width="23.02" height="569.84" fill="#C2B0D5" stroke="#000" stroke-width="2"/>
<rect x="828.37" y="1750.46" width="23.02" height="573.24" fill="#FBF3A3" stroke="#000" stroke-width="2"/>
<rect x="874.42" y="2013.62" width="23.02" height="310.08" fill="#FBC999" stroke="#000" stroke-width="2"/>
<rect x="897.44" y="1840.9" width="23.02" height="482.8" fill="#9FD39D" stroke="#000" stroke-width="2"/>
<rect x="920.47" y="1740.26" width="23.02" height="583.44" fill="#C2B0D5" stroke="#000" stroke-width="2"/>
<rect x="943.49" y="1747.06" width="23.02" height="576.64" fill="#FBF3A3" stroke="#000" stroke-width="2"/>
<rect x="989.54" y="2058.5" width="23.02" height="265.2" fill="#FBC999" stroke="#000" stroke-width="2"/>
<rect x="1012.56" y="1887.14" width="23.02" height="436.56" fill="#9FD39D" stroke="#000" stroke-width="2"/>
<rect x="1035.58" y="1776.98" width="23.02" height="546.72" fill="#C2B0D5" stroke="#000" stroke-width="2"/>
<rect x="1058.61" y="1782.42" width="23.02" height="541.28" fill="#FBF3A3" stroke="#000" stroke-width="2"/>
<rect x="1104.65" y="2059.18" width="23.02" height="264.52" fill="#FBC999" stroke="#000" stroke-width="2"/>
<rect x="1127.68" y="1896.66" width="23.02" height="427.04" fill="#9FD39D" stroke="#000" stroke-width="2"/>
<rect x="1150.7" y="1768.82" width="23.02" height="554.88" fill="#C2B0D5" stroke="#000" stroke-width="2"/>
<rect x="1173.72" y="1762.02" width="23.02" height="561.68" fill="#FBF3A3" stroke="#000" stroke-width="2"/>
<rect x="1219.77" y="2077.54" width="23.02" height="246.16" fill="#FBC999" stroke="#000" stroke-width="2"/>
<rect x="1242.8" y="1888.5" width="23.02" height="435.2" fill="#9FD39D" stroke="#000" stroke-width="2"/>
<rect x="1265.82" y="1755.22" width="23.02" height="568.48" fill="#C2B0D5" stroke="#000" stroke-width="2"/>
<rect x="1288.84" y="1744.34" width="23.02" height="579.36" fill="#FBF3A3" stroke="#000" stroke-width="2"/>
<rect x="1334.89" y="2035.38" width="23.02" height="288.32" fill="#FBC999" stroke="#000" stroke-width="2"/>
<rect x="1357.91" y="1836.82" width="23.02" height="486.88" fill="#9FD39D" stroke="#000" stroke-width="2"/>
<rect x="1380.94" y="1738.9" width="23.02" height="584.8" fill="#C2B0D5" stroke="#000" stroke-width="2"/>
<rect x="1403.96" y="1723.94" width="23.02" height="599.76" fill="#FBF3A3" stroke="#000" stroke-width="2"/>
<rect x="1450.01" y="2074.82" width="23.02" height="248.88" fill="#FBC999" stroke="#000" stroke-width="2"/>
<rect x="1473.03" y="1922.5" width="23.02" height="401.2" fill="#9FD39D" stroke="#000" stroke-width="2"/>
<rect x="1496.05" y="1809.62" width="23.02" height="514.08" fill="#C2B0D5" stroke="#000" stroke-width="2"/>
<rect x="1519.08" y="1805.54" width="23.02" height="518.16" fill="#FBF3A3" stroke="#000" stroke-width="2"/>
<line x1="80.11" y1="2059.18" x2="80.11" y2="2323.7" stroke="#000" stroke-width="2"/>
<rect x="75.61" y="2054.68" width="9" height="9" fill="#000"/>
<line x1="103.14" y1="1896.66" x2="103.14" y2="2323.7" stroke="#000" stroke-width="2"/>
<circle cx="103.14" cy="1896.66" r="5.7" fill="#000"/>
<line x1="126.16" y1="1768.82" x2="126.16" y2="2323.7" stroke="#000" stroke-width="2"/>
<polygon points="126.16,1761.89 120.26,1772.29 132.06,1772.29" fill="#000" stroke="#000" stroke-width="1.3" stroke-linejoin="round"/>
<line x1="149.18" y1="1762.02" x2="149.18" y2="2323.7" stroke="#000" stroke-width="2"/>
<polygon points="149.18,1768.95 143.28,1758.55 155.08,1758.55" fill="#000" stroke="#000" stroke-width="1.3" stroke-linejoin="round"/>
<line x1="195.23" y1="2061.22" x2="195.23" y2="2323.7" stroke="#000" stroke-width="2"/>
<rect x="190.73" y="2056.72" width="9" height="9" fill="#000"/>
<line x1="218.25" y1="1874.9" x2="218.25" y2="2323.7" stroke="#000" stroke-width="2"/>
<circle cx="218.25" cy="1874.9" r="5.7" fill="#000"/>
<line x1="241.28" y1="1771.54" x2="241.28" y2="2323.7" stroke="#000" stroke-width="2"/>
<polygon points="241.28,1764.61 235.38,1775.01 247.18,1775.01" fill="#000" stroke="#000" stroke-width="1.3" stroke-linejoin="round"/>
<line x1="264.3" y1="1768.82" x2="264.3" y2="2323.7" stroke="#000" stroke-width="2"/>
<polygon points="264.3,1775.75 258.4,1765.35 270.2,1765.35" fill="#000" stroke="#000" stroke-width="1.3" stroke-linejoin="round"/>
<line x1="310.35" y1="2045.58" x2="310.35" y2="2323.7" stroke="#000" stroke-width="2"/>
<rect x="305.85" y="2041.08" width="9" height="9" fill="#000"/>
<line x1="333.37" y1="1859.94" x2="333.37" y2="2323.7" stroke="#000" stroke-width="2"/>
<circle cx="333.37" cy="1859.94" r="5.7" fill="#000"/>
<line x1="356.39" y1="1747.06" x2="356.39" y2="2323.7" stroke="#000" stroke-width="2"/>
<polygon points="356.39,1740.13 350.49,1750.53 362.29,1750.53" fill="#000" stroke="#000" stroke-width="1.3" stroke-linejoin="round"/>
<line x1="379.42" y1="1741.62" x2="379.42" y2="2323.7" stroke="#000" stroke-width="2"/>
<polygon points="379.42,1748.55 373.52,1738.15 385.32,1738.15" fill="#000" stroke="#000" stroke-width="1.3" stroke-linejoin="round"/>
<line x1="425.46" y1="2112.9" x2="425.46" y2="2323.7" stroke="#000" stroke-width="2"/>
<rect x="420.96" y="2108.4" width="9" height="9" fill="#000"/>
<line x1="448.49" y1="1941.54" x2="448.49" y2="2323.7" stroke="#000" stroke-width="2"/>
<circle cx="448.49" cy="1941.54" r="5.7" fill="#000"/>
<line x1="471.51" y1="1827.3" x2="471.51" y2="2323.7" stroke="#000" stroke-width="2"/>
<polygon points="471.51,1820.37 465.61,1830.77 477.41,1830.77" fill="#000" stroke="#000" stroke-width="1.3" stroke-linejoin="round"/>
<line x1="494.53" y1="1839.54" x2="494.53" y2="2323.7" stroke="#000" stroke-width="2"/>
<polygon points="494.53,1846.47 488.63,1836.07 500.43,1836.07" fill="#000" stroke="#000" stroke-width="1.3" stroke-linejoin="round"/>
<line x1="540.58" y1="2148.94" x2="540.58" y2="2323.7" stroke="#000" stroke-width="2"/>
<rect x="536.08" y="2144.44" width="9" height="9" fill="#000"/>
<line x1="563.6" y1="1999.34" x2="563.6" y2="2323.7" stroke="#000" stroke-width="2"/>
<circle cx="563.6" cy="1999.34" r="5.7" fill="#000"/>
<line x1="586.63" y1="1918.42" x2="586.63" y2="2323.7" stroke="#000" stroke-width="2"/>
<polygon points="586.63,1911.49 580.73,1921.89 592.53,1921.89" fill="#000" stroke="#000" stroke-width="1.3" stroke-linejoin="round"/>
<line x1="609.65" y1="1912.98" x2="609.65" y2="2323.7" stroke="#000" stroke-width="2"/>
<polygon points="609.65,1919.91 603.75,1909.51 615.55,1909.51" fill="#000" stroke="#000" stroke-width="1.3" stroke-linejoin="round"/>
<line x1="655.7" y1="2059.18" x2="655.7" y2="2323.7" stroke="#000" stroke-width="2"/>
<rect x="651.2" y="2054.68" width="9" height="9" fill="#000"/>
<line x1="678.72" y1="1896.66" x2="678.72" y2="2323.7" stroke="#000" stroke-width="2"/>
<circle cx="678.72" cy="1896.66" r="5.7" fill="#000"/>
<line x1="701.74" y1="1768.82" x2="701.74" y2="2323.7" stroke="#000" stroke-width="2"/>
<polygon points="701.74,1761.89 695.84,1772.29 707.64,1772.29" fill="#000" stroke="#000" stroke-width="1.3" stroke-linejoin="round"/>
<line x1="724.77" y1="1762.02" x2="724.77" y2="2323.7" stroke="#000" stroke-width="2"/>
<polygon points="724.77,1768.95 718.87,1758.55 730.67,1758.55" fill="#000" stroke="#000" stroke-width="1.3" stroke-linejoin="round"/>
<line x1="770.81" y1="2029.26" x2="770.81" y2="2323.7" stroke="#000" stroke-width="2"/>
<rect x="766.31" y="2024.76" width="9" height="9" fill="#000"/>
<line x1="793.84" y1="1853.14" x2="793.84" y2="2323.7" stroke="#000" stroke-width="2"/>
<circle cx="793.84" cy="1853.14" r="5.7" fill="#000"/>
<line x1="816.86" y1="1753.86" x2="816.86" y2="2323.7" stroke="#000" stroke-width="2"/>
<polygon points="816.86,1746.93 810.96,1757.33 822.76,1757.33" fill="#000" stroke="#000" stroke-width="1.3" stroke-linejoin="round"/>
<line x1="839.89" y1="1750.46" x2="839.89" y2="2323.7" stroke="#000" stroke-width="2"/>
<polygon points="839.89,1757.39 833.99,1746.99 845.79,1746.99" fill="#000" stroke="#000" stroke-width="1.3" stroke-linejoin="round"/>
<line x1="885.93" y1="2013.62" x2="885.93" y2="2323.7" stroke="#000" stroke-width="2"/>
<rect x="881.43" y="2009.12" width="9" height="9" fill="#000"/>
<line x1="908.96" y1="1840.9" x2="908.96" y2="2323.7" stroke="#000" stroke-width="2"/>
<circle cx="908.96" cy="1840.9" r="5.7" fill="#000"/>
<line x1="931.98" y1="1740.26" x2="931.98" y2="2323.7" stroke="#000" stroke-width="2"/>
<polygon points="931.98,1733.33 926.08,1743.73 937.88,1743.73" fill="#000" stroke="#000" stroke-width="1.3" stroke-linejoin="round"/>
<line x1="955" y1="1747.06" x2="955" y2="2323.7" stroke="#000" stroke-width="2"/>
<polygon points="955,1753.99 949.1,1743.59 960.9,1743.59" fill="#000" stroke="#000" stroke-width="1.3" stroke-linejoin="round"/>
<line x1="1001.05" y1="2058.5" x2="1001.05" y2="2323.7" stroke="#000" stroke-width="2"/>
<rect x="996.55" y="2054" width="9" height="9" fill="#000"/>
<line x1="1024.07" y1="1887.14" x2="1024.07" y2="2323.7" stroke="#000" stroke-width="2"/>
<circle cx="1024.07" cy="1887.14" r="5.7" fill="#000"/>
<line x1="1047.1" y1="1776.98" x2="1047.1" y2="2323.7" stroke="#000" stroke-width="2"/>
<polygon points="1047.1,1770.05 1041.2,1780.45 1053,1780.45" fill="#000" stroke="#000" stroke-width="1.3" stroke-linejoin="round"/>
<line x1="1070.12" y1="1782.42" x2="1070.12" y2="2323.7" stroke="#000" stroke-width="2"/>
<polygon points="1070.12,1789.35 1064.22,1778.95 1076.02,1778.95" fill="#000" stroke="#000" stroke-width="1.3" stroke-linejoin="round"/>
<line x1="1116.17" y1="2059.18" x2="1116.17" y2="2323.7" stroke="#000" stroke-width="2"/>
<rect x="1111.67" y="2054.68" width="9" height="9" fill="#000"/>
<line x1="1139.19" y1="1896.66" x2="1139.19" y2="2323.7" stroke="#000" stroke-width="2"/>
<circle cx="1139.19" cy="1896.66" r="5.7" fill="#000"/>
<line x1="1162.21" y1="1768.82" x2="1162.21" y2="2323.7" stroke="#000" stroke-width="2"/>
<polygon points="1162.21,1761.89 1156.31,1772.29 1168.11,1772.29" fill="#000" stroke="#000" stroke-width="1.3" stroke-linejoin="round"/>
<line x1="1185.24" y1="1762.02" x2="1185.24" y2="2323.7" stroke="#000" stroke-width="2"/>
<polygon points="1185.24,1768.95 1179.34,1758.55 1191.14,1758.55" fill="#000" stroke="#000" stroke-width="1.3" stroke-linejoin="round"/>
<line x1="1231.28" y1="2077.54" x2="1231.28" y2="2323.7" stroke="#000" stroke-width="2"/>
<rect x="1226.78" y="2073.04" width="9" height="9" fill="#000"/>
<line x1="1254.31" y1="1888.5" x2="1254.31" y2="2323.7" stroke="#000" stroke-width="2"/>
<circle cx="1254.31" cy="1888.5" r="5.7" fill="#000"/>
<line x1="1277.33" y1="1755.22" x2="1277.33" y2="2323.7" stroke="#000" stroke-width="2"/>
<polygon points="1277.33,1748.29 1271.43,1758.69 1283.23,1758.69" fill="#000" stroke="#000" stroke-width="1.3" stroke-linejoin="round"/>
<line x1="1300.35" y1="1744.34" x2="1300.35" y2="2323.7" stroke="#000" stroke-width="2"/>
<polygon points="1300.35,1751.27 1294.45,1740.87 1306.25,1740.87" fill="#000" stroke="#000" stroke-width="1.3" stroke-linejoin="round"/>
<line x1="1346.4" y1="2035.38" x2="1346.4" y2="2323.7" stroke="#000" stroke-width="2"/>
<rect x="1341.9" y="2030.88" width="9" height="9" fill="#000"/>
<line x1="1369.42" y1="1836.82" x2="1369.42" y2="2323.7" stroke="#000" stroke-width="2"/>
<circle cx="1369.42" cy="1836.82" r="5.7" fill="#000"/>
<line x1="1392.45" y1="1738.9" x2="1392.45" y2="2323.7" stroke="#000" stroke-width="2"/>
<polygon points="1392.45,1731.97 1386.55,1742.37 1398.35,1742.37" fill="#000" stroke="#000" stroke-width="1.3" stroke-linejoin="round"/>
<line x1="1415.47" y1="1723.94" x2="1415.47" y2="2323.7" stroke="#000" stroke-width="2"/>
<polygon points="1415.47,1730.87 1409.57,1720.47 1421.37,1720.47" fill="#000" stroke="#000" stroke-width="1.3" stroke-linejoin="round"/>
<line x1="1461.52" y1="2074.82" x2="1461.52" y2="2323.7" stroke="#000" stroke-width="2"/>
<rect x="1457.02" y="2070.32" width="9" height="9" fill="#000"/>
<line x1="1484.54" y1="1922.5" x2="1484.54" y2="2323.7" stroke="#000" stroke-width="2"/>
<circle cx="1484.54" cy="1922.5" r="5.7" fill="#000"/>
<line x1="1507.56" y1="1809.62" x2="1507.56" y2="2323.7" stroke="#000" stroke-width="2"/>
<polygon points="1507.56,1802.69 1501.66,1813.09 1513.46,1813.09" fill="#000" stroke="#000" stroke-width="1.3" stroke-linejoin="round"/>
<line x1="1530.59" y1="1805.54" x2="1530.59" y2="2323.7" stroke="#000" stroke-width="2"/>
<polygon points="1530.59,1812.47 1524.69,1802.07 1536.49,1802.07" fill="#000" stroke="#000" stroke-width="1.3" stroke-linejoin="round"/>
<rect x="59.9" y="2320.4" width="8.7" height="6.6" fill="#000"/>
<rect x="63.9" y="2252.4" width="4.7" height="6.6" fill="#000"/>
<rect x="1537.4" y="2252.4" width="4.7" height="6.6" fill="#000"/>
<rect x="59.9" y="2184.4" width="8.7" height="6.6" fill="#000"/>
<rect x="63.9" y="2116.4" width="4.7" height="6.6" fill="#000"/>
<rect x="1537.4" y="2116.4" width="4.7" height="6.6" fill="#000"/>
<rect x="59.9" y="2048.4" width="8.7" height="6.6" fill="#000"/>
<rect x="63.9" y="1980.4" width="4.7" height="6.6" fill="#000"/>
<rect x="1537.4" y="1980.4" width="4.7" height="6.6" fill="#000"/>
<rect x="59.9" y="1912.4" width="8.7" height="6.6" fill="#000"/>
<rect x="63.9" y="1844.4" width="4.7" height="6.6" fill="#000"/>
<rect x="1537.4" y="1844.4" width="4.7" height="6.6" fill="#000"/>
<rect x="59.9" y="1776.4" width="8.7" height="6.6" fill="#000"/>
<rect x="63.9" y="1708.4" width="4.7" height="6.6" fill="#000"/>
<rect x="1537.4" y="1708.4" width="4.7" height="6.6" fill="#000"/>
<rect x="59.9" y="1640.4" width="8.7" height="6.6" fill="#000"/>
<rect x="111.35" y="2323.7" width="6.6" height="8.7" fill="#000"/>
<rect x="168.91" y="2323.7" width="6.6" height="4.7" fill="#000"/>
<rect x="168.91" y="1643.7" width="6.6" height="4.7" fill="#000"/>
<rect x="226.46" y="2323.7" width="6.6" height="8.7" fill="#000"/>
<rect x="284.02" y="2323.7" width="6.6" height="4.7" fill="#000"/>
<rect x="284.02" y="1643.7" width="6.6" height="4.7" fill="#000"/>
<rect x="341.58" y="2323.7" width="6.6" height="8.7" fill="#000"/>
<rect x="399.14" y="2323.7" width="6.6" height="4.7" fill="#000"/>
<rect x="399.14" y="1643.7" width="6.6" height="4.7" fill="#000"/>
<rect x="456.7" y="2323.7" width="6.6" height="8.7" fill="#000"/>
<rect x="514.26" y="2323.7" width="6.6" height="4.7" fill="#000"/>
<rect x="514.26" y="1643.7" width="6.6" height="4.7" fill="#000"/>
<rect x="571.82" y="2323.7" width="6.6" height="8.7" fill="#000"/>
<rect x="629.37" y="2323.7" width="6.6" height="4.7" fill="#000"/>
<rect x="629.37" y="1643.7" width="6.6" height="4.7" fill="#000"/>
<rect x="686.93" y="2323.7" width="6.6" height="8.7" fill="#000"/>
<rect x="744.49" y="2323.7" width="6.6" height="4.7" fill="#000"/>
<rect x="744.49" y="1643.7" width="6.6" height="4.7" fill="#000"/>
<rect x="802.05" y="2323.7" width="6.6" height="8.7" fill="#000"/>
<rect x="859.61" y="2323.7" width="6.6" height="4.7" fill="#000"/>
<rect x="859.61" y="1643.7" width="6.6" height="4.7" fill="#000"/>
<rect x="917.17" y="2323.7" width="6.6" height="8.7" fill="#000"/>
<rect x="974.73" y="2323.7" width="6.6" height="4.7" fill="#000"/>
<rect x="974.73" y="1643.7" width="6.6" height="4.7" fill="#000"/>
<rect x="1032.28" y="2323.7" width="6.6" height="8.7" fill="#000"/>
<rect x="1089.84" y="2323.7" width="6.6" height="4.7" fill="#000"/>
<rect x="1089.84" y="1643.7" width="6.6" height="4.7" fill="#000"/>
<rect x="1147.4" y="2323.7" width="6.6" height="8.7" fill="#000"/>
<rect x="1204.96" y="2323.7" width="6.6" height="4.7" fill="#000"/>
<rect x="1204.96" y="1643.7" width="6.6" height="4.7" fill="#000"/>
<rect x="1262.52" y="2323.7" width="6.6" height="8.7" fill="#000"/>
<rect x="1320.08" y="2323.7" width="6.6" height="4.7" fill="#000"/>
<rect x="1320.08" y="1643.7" width="6.6" height="4.7" fill="#000"/>
<rect x="1377.64" y="2323.7" width="6.6" height="8.7" fill="#000"/>
<rect x="1435.19" y="2323.7" width="6.6" height="4.7" fill="#000"/>
<rect x="1435.19" y="1643.7" width="6.6" height="4.7" fill="#000"/>
<rect x="1492.75" y="2323.7" width="6.6" height="8.7" fill="#000"/>
<rect x="68.6" y="1643.7" width="1473.5" height="680" fill="none" stroke="#000" stroke-width="6.6"/>
<text transform="translate(58.3,2331.7) scale(1.05,1.1)" font-size="25" text-anchor="end" stroke="#000" stroke-width="0.42">0</text>
<text transform="translate(58.3,2195.7) scale(1.05,1.1)" font-size="25" text-anchor="end" stroke="#000" stroke-width="0.42">10</text>
<text transform="translate(58.3,2059.7) scale(1.05,1.1)" font-size="25" text-anchor="end" stroke="#000" stroke-width="0.42">20</text>
<text transform="translate(58.3,1923.7) scale(1.05,1.1)" font-size="25" text-anchor="end" stroke="#000" stroke-width="0.42">30</text>
<text transform="translate(58.3,1787.7) scale(1.05,1.1)" font-size="25" text-anchor="end" stroke="#000" stroke-width="0.42">40</text>
<text transform="translate(58.3,1651.7) scale(1.05,1.1)" font-size="25" text-anchor="end" stroke="#000" stroke-width="0.42">50</text>
<text transform="translate(24,1983.7) rotate(-90) scale(1.03,1.01)" font-size="25" text-anchor="middle" stroke="#000" stroke-width="0.42">Compressive Strength (MPa)</text>
<text transform="translate(105.85,2339) rotate(90) scale(1.02,1.02)" font-size="25" text-anchor="start" stroke="#000" stroke-width="0.42">CS-0</text>
<text transform="translate(220.96,2339) rotate(90) scale(1.02,1.02)" font-size="25" text-anchor="start" stroke="#000" stroke-width="0.42">RC-1</text>
<text transform="translate(336.08,2339) rotate(90) scale(1.02,1.02)" font-size="25" text-anchor="start" stroke="#000" stroke-width="0.42">RC-2</text>
<text transform="translate(451.2,2339) rotate(90) scale(1.02,1.02)" font-size="25" text-anchor="start" stroke="#000" stroke-width="0.42">RC-3</text>
<text transform="translate(566.32,2339) rotate(90) scale(1.02,1.02)" font-size="25" text-anchor="start" stroke="#000" stroke-width="0.42">RC-4</text>
<text transform="translate(681.43,2339) rotate(90) scale(1.02,1.02)" font-size="25" text-anchor="start" stroke="#000" stroke-width="0.42">CS-0</text>
<text transform="translate(796.55,2339) rotate(90) scale(1.02,1.02)" font-size="25" text-anchor="start" stroke="#000" stroke-width="0.42">RC-FA-1</text>
<text transform="translate(911.67,2339) rotate(90) scale(1.02,1.02)" font-size="25" text-anchor="start" stroke="#000" stroke-width="0.42">RC-FA-2</text>
<text transform="translate(1026.78,2339) rotate(90) scale(1.02,1.02)" font-size="25" text-anchor="start" stroke="#000" stroke-width="0.42">RC-FA-3</text>
<text transform="translate(1141.9,2339) rotate(90) scale(1.02,1.02)" font-size="25" text-anchor="start" stroke="#000" stroke-width="0.42">CS-0</text>
<text transform="translate(1257.02,2339) rotate(90) scale(1.02,1.02)" font-size="25" text-anchor="start" stroke="#000" stroke-width="0.42">RC-FASF-1</text>
<text transform="translate(1372.14,2339) rotate(90) scale(1.02,1.02)" font-size="25" text-anchor="start" stroke="#000" stroke-width="0.42">RC-FASF-2</text>
<text transform="translate(1487.25,2339) rotate(90) scale(1.02,1.02)" font-size="25" text-anchor="start" stroke="#000" stroke-width="0.42">RC-FASF-3</text>
<text transform="translate(801.55,2469.7) scale(1.05,1.1)" font-size="25" text-anchor="middle" stroke="#000" stroke-width="0.42">Mix ID</text>
<rect x="457.45" y="1658.15" width="135.5" height="116.1" fill="none" stroke="#000" stroke-width="1.9"/>
<path d="M513 1660.1 H459.6 V1688.3 H513" fill="none" stroke="#b0b0b0" stroke-width="1.2"/>
<rect x="461.15" y="1661.65" width="50.9" height="25.1" fill="#FBC999" stroke="#000" stroke-width="1.9"/>
<text transform="translate(518,1682.5) scale(1.05,1.1)" font-size="22.2" text-anchor="start" stroke="#000" stroke-width="0.42">7days</text>
<path d="M513 1688.3 H459.6 V1716.5 H513" fill="none" stroke="#b0b0b0" stroke-width="1.2"/>
<rect x="461.15" y="1689.85" width="50.9" height="25.1" fill="#9FD39D" stroke="#000" stroke-width="1.9"/>
<text transform="translate(518,1710.7) scale(1.05,1.1)" font-size="22.2" text-anchor="start" stroke="#000" stroke-width="0.42">14days</text>
<path d="M513 1716.5 H459.6 V1744.7 H513" fill="none" stroke="#b0b0b0" stroke-width="1.2"/>
<rect x="461.15" y="1718.05" width="50.9" height="25.1" fill="#C2B0D5" stroke="#000" stroke-width="1.9"/>
<text transform="translate(518,1738.9) scale(1.05,1.1)" font-size="22.2" text-anchor="start" stroke="#000" stroke-width="0.42">28 days</text>
<path d="M513 1744.7 H459.6 V1772.9 H513" fill="none" stroke="#b0b0b0" stroke-width="1.2"/>
<rect x="461.15" y="1746.25" width="50.9" height="25.1" fill="#FBF3A3" stroke="#000" stroke-width="1.9"/>
<text transform="translate(518,1767.1) scale(1.05,1.1)" font-size="22.2" text-anchor="start" stroke="#000" stroke-width="0.42">90 days</text>
<text transform="translate(502.6,1805.3) scale(1.03,1.02)" font-size="25" text-anchor="start" stroke="#000" stroke-width="0.42">(d)</text>
</g>
</svg>
</body></html>
